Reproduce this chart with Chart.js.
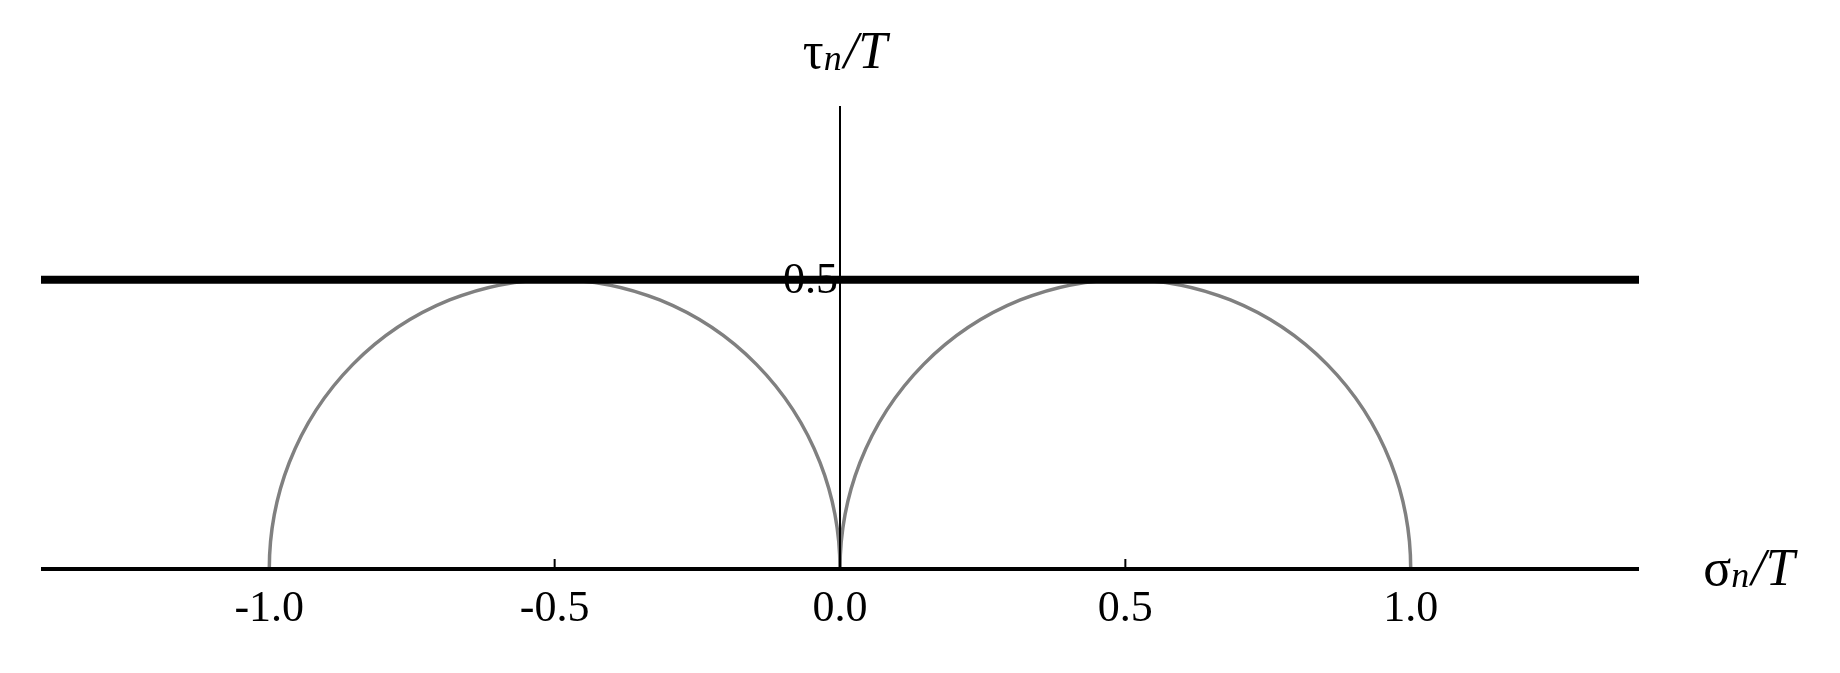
<!DOCTYPE html>
<html>
<head>
<meta charset="utf-8">
<script src="https://cdn.jsdelivr.net/npm/chart.js@4"></script>
<style>
  html, body { margin:0; padding:0; background:#fff; }
  #wrap { width:1840px; height:673px; }
</style>
</head>
<body>
<div id="wrap"><canvas id="c"></canvas></div>
<script>
// data
const xTicks = [-1.0, -0.5, 0.0, 0.5, 1.0];
const xTickLabels = ['-1.0', '-0.5', '0.0', '0.5', '1.0'];
const yTicks = [0.5];
const yTickLabels = ['0.5'];
const limitLineX = [-1.4, 1.4];
const limitLineY = [0.5, 0.5];
const circleCenters = [-0.5, 0.5];
const circleRadii = [0.5, 0.5];
const xRange = [-1.4, 1.4];
const yRange = [0, 0.8];

const serif = '"Liberation Serif", "DejaVu Serif", serif';

const overlay = {
  id: 'mohrOverlay',
  beforeDatasetsDraw(chart) {
    const {ctx, scales: {x, y}} = chart;
    ctx.save();
    // semicircles
    ctx.strokeStyle = '#808080';
    ctx.lineWidth = 3.5;
    circleCenters.forEach((c, i) => {
      const r = circleRadii[i];
      const cx = x.getPixelForValue(c), cy = y.getPixelForValue(0);
      const rx = x.getPixelForValue(c + r) - cx;
      const ry = cy - y.getPixelForValue(r);
      ctx.beginPath();
      ctx.ellipse(cx, cy, rx, ry, 0, Math.PI, 2 * Math.PI);
      ctx.stroke();
    });
    // axes
    ctx.strokeStyle = '#000';
    ctx.lineWidth = 4;
    ctx.beginPath();
    ctx.moveTo(x.getPixelForValue(xRange[0]), y.getPixelForValue(0));
    ctx.lineTo(x.getPixelForValue(xRange[1]), y.getPixelForValue(0));
    ctx.stroke();
    ctx.lineWidth = 2;
    ctx.beginPath();
    ctx.moveTo(x.getPixelForValue(0), y.getPixelForValue(0));
    ctx.lineTo(x.getPixelForValue(0), y.getPixelForValue(yRange[1]));
    ctx.stroke();
    // small ticks at +-0.5
    [-0.5, 0.5].forEach(v => {
      const px = x.getPixelForValue(v);
      ctx.beginPath();
      ctx.moveTo(px, y.getPixelForValue(0));
      ctx.lineTo(px, y.getPixelForValue(0) - 10);
      ctx.stroke();
    });
    ctx.restore();
  },
  afterDatasetsDraw(chart) {
    const {ctx, scales: {x, y}} = chart;
    ctx.save();
    ctx.fillStyle = '#000';
    ctx.font = '44px ' + serif;
    ctx.textAlign = 'center';
    ctx.textBaseline = 'middle';
    xTicks.forEach((v, i) => {
      ctx.fillText(xTickLabels[i], x.getPixelForValue(v), y.getPixelForValue(0) + 40);
    });
    ctx.textAlign = 'right';
    yTicks.forEach((v, i) => {
      ctx.fillText(yTickLabels[i], x.getPixelForValue(0) - 2, y.getPixelForValue(v) + 2);
    });
    // axis titles
    function title(sym, px, py) {
      ctx.textAlign = 'left';
      ctx.font = '52px ' + serif;
      const w1 = ctx.measureText(sym).width;
      ctx.font = 'italic 36px ' + serif;
      const w2 = ctx.measureText('n').width;
      ctx.font = 'italic 52px ' + serif;
      const w3 = ctx.measureText('/T').width;
      let sx = px - (w1 + w2 + w3) / 2;
      ctx.font = '52px ' + serif;
      ctx.fillText(sym, sx, py);
      ctx.font = 'italic 36px ' + serif;
      ctx.fillText('n', sx + w1, py + 7);
      ctx.font = 'italic 52px ' + serif;
      ctx.fillText('/T', sx + w1 + w2 + 2, py);
    }
    title('τ', x.getPixelForValue(0) + 4, 54);
    title('σ', 1748, y.getPixelForValue(0) + 2);
    ctx.restore();
  }
};

new Chart(document.getElementById('c'), {
  type: 'scatter',
  data: {
    datasets: [{
      data: limitLineX.map((v, i) => ({x: v, y: limitLineY[i]})),
      showLine: true,
      borderColor: '#000',
      borderWidth: 8,
      pointRadius: 0
    }]
  },
  options: {
    responsive: true,
    maintainAspectRatio: false,
    animation: false,
    layout: { padding: { left: 41, right: 201, top: 106, bottom: 104 } },
    scales: {
      x: { type: 'linear', min: xRange[0], max: xRange[1], display: false },
      y: { type: 'linear', min: yRange[0], max: yRange[1], display: false }
    },
    plugins: { legend: { display: false }, tooltip: { enabled: false } }
  },
  plugins: [overlay]
});
</script>
</body>
</html>
